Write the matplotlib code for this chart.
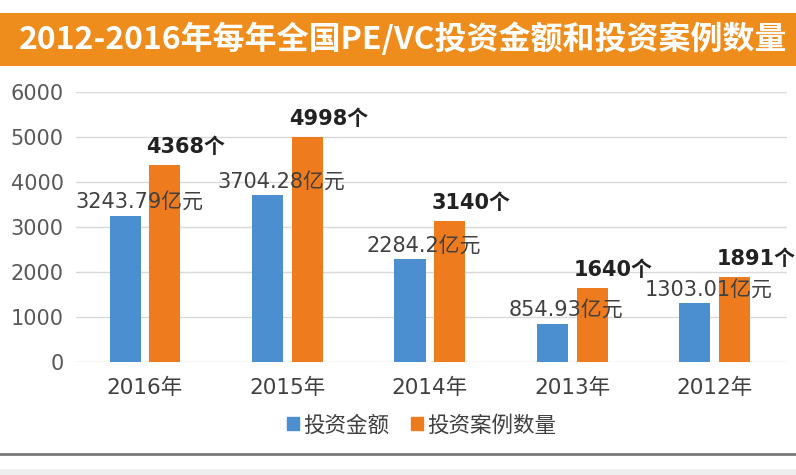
import numpy as np
import matplotlib.pyplot as plt
from matplotlib.patches import Rectangle, Patch
from matplotlib.lines import Line2D

plt.rcParams['font.family'] = ['DejaVu Sans', 'Noto Sans CJK SC']

years = ['2016年', '2015年', '2014年', '2013年', '2012年']
amount = [3243.79, 3704.28, 2284.2, 854.93, 1303.01]   # 亿元
cases = [4368, 4998, 3140, 1640, 1891]                  # 个
amount_labels = ['3243.79亿元', '3704.28亿元', '2284.2亿元', '854.93亿元', '1303.01亿元']
case_labels = ['4368个', '4998个', '3140个', '1640个', '1891个']

blue = '#4C8FD0'
orange = '#EE7C1F'
band = '#EF8D1C'

fig = plt.figure(figsize=(7.96, 4.75), dpi=100)
fig.patch.set_facecolor('white')

# title band
fig.patches.append(Rectangle((0, 0.861), 1, 0.1116, transform=fig.transFigure,
                             facecolor=band, edgecolor='none', zorder=0))
fig.text(0.024, 0.917, '2012-2016年每年全国PE/VC投资金额和投资案例数量',
         family=['Noto Sans CJK SC'], fontweight='bold', fontsize=23,
         color='white', va='center', ha='left')

# bottom rule and grey strip
fig.lines.append(Line2D([0, 1], [0.044, 0.044], transform=fig.transFigure,
                        color='#7a7a7a', lw=2))
fig.patches.append(Rectangle((0, 0), 1, 0.0126, transform=fig.transFigure,
                             facecolor='#eeeeee', edgecolor='none'))

ax = fig.add_axes([0.0955, 0.2379, 0.8932, 0.5684])
x = np.arange(len(years))
w = 0.218
off = 0.14
b1 = ax.bar(x - off, amount, w, color=blue, zorder=2)
b2 = ax.bar(x + off, cases, w, color=orange, zorder=2)

for rect, lab in zip(b1, amount_labels):
    ax.annotate(lab, (rect.get_x() + rect.get_width() / 2, rect.get_height()),
                xytext=(10, 10), textcoords='offset points', ha='center', va='center',
                fontsize=15, color='#404040', zorder=3)
for rect, lab in zip(b2, case_labels):
    ax.annotate(lab, (rect.get_x() + rect.get_width() / 2, rect.get_height()),
                xytext=(15, 13), textcoords='offset points', ha='center', va='center',
                fontsize=15, fontweight='bold', color='#222222', zorder=3)

ax.set_ylim(0, 6000)
ax.set_xlim(-0.484, 4.506)
ax.set_yticks(range(0, 6001, 1000))
ax.set_xticks(x)
ax.set_xticklabels(years)
ax.yaxis.grid(True, color='#d9d9d9', lw=1)
ax.set_axisbelow(True)
for s in ax.spines.values():
    s.set_visible(False)
ax.tick_params(axis='y', length=0, pad=9, labelsize=15, labelcolor='#595959')
ax.tick_params(axis='x', length=0, pad=11, labelsize=15.5, labelcolor='#404040')

handles = [Patch(color=blue, label='投资金额'), Patch(color=orange, label='投资案例数量')]
fig.legend(handles=handles, loc='center', bbox_to_anchor=(0.53, 0.105), ncol=2,
           frameon=False, fontsize=15.5, handlelength=0.55, handleheight=0.55,
           handletextpad=0.2, columnspacing=1.0, labelcolor='#404040')

fig.savefig('out.png', dpi=100)
